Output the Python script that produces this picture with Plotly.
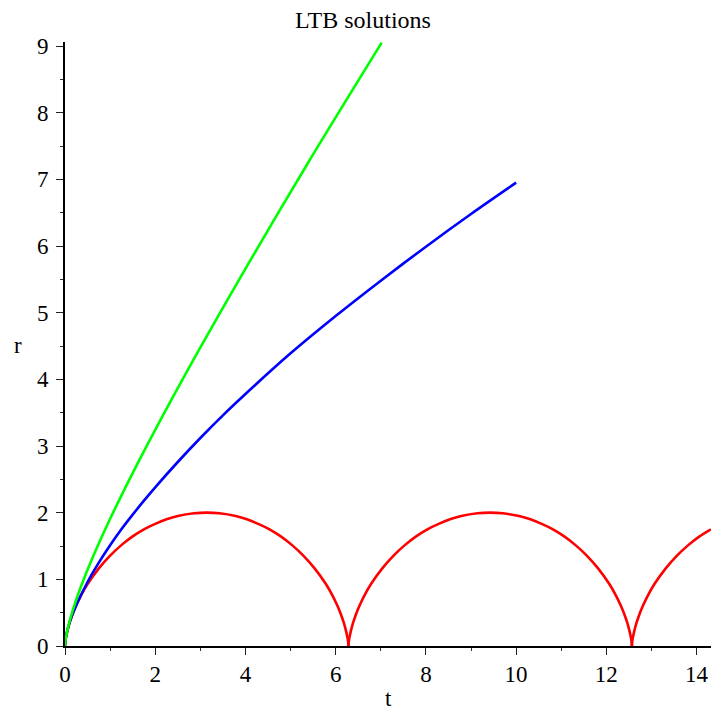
import plotly.graph_objects as go

# Red curve (three arches)
red_t = [0, 0.005, 0.01, 0.02, 0.05, 0.1, 0.15, 0.2, 0.27, 0.35, 0.5, 0.75, 1.0, 1.25, 1.5, 1.75,
         2.0, 2.25, 2.5, 2.86, 3.1416,
         3.4232, 3.7832, 4.0332, 4.2832, 4.5332, 4.7832, 5.0332, 5.2832, 5.5332, 5.7832, 5.9332,
         6.0132, 6.0832, 6.1332, 6.1832, 6.2332, 6.2632, 6.2732, 6.2782, 6.2832,
         None,
         6.2832, 6.2882, 6.2932, 6.3032, 6.3332, 6.3832, 6.4332, 6.4832, 6.5532, 6.6332, 6.7832,
         7.0332, 7.2832, 7.5332, 7.7832, 8.0332, 8.2832, 8.5332, 8.7832, 9.1432, 9.4248,
         9.7064, 10.0664, 10.3164, 10.5664, 10.8164, 11.0664, 11.3164, 11.5664, 11.8164, 12.0664,
         12.2164, 12.2964, 12.3664, 12.4164, 12.4664, 12.5164, 12.5464, 12.5564, 12.5614, 12.5664,
         None,
         12.5664, 12.5714, 12.5764, 12.5864, 12.6164, 12.6664, 12.7164, 12.7664, 12.8364, 12.9164,
         13.0664, 13.3164, 13.5664, 13.8164, 14.0664, 14.3164]
red_r = [0, 0.048, 0.076, 0.12, 0.216, 0.343, 0.443, 0.532, 0.64, 0.752, 0.929, 1.164, 1.356, 1.513,
         1.644, 1.75, 1.832, 1.90, 1.949, 1.99, 2.0,
         1.99, 1.949, 1.90, 1.832, 1.75, 1.644, 1.513, 1.356, 1.164, 0.929, 0.752,
         0.64, 0.532, 0.443, 0.343, 0.216, 0.12, 0.076, 0.048, 0,
         None,
         0, 0.048, 0.076, 0.12, 0.216, 0.343, 0.443, 0.532, 0.64, 0.752, 0.929,
         1.164, 1.356, 1.513, 1.644, 1.75, 1.832, 1.90, 1.949, 1.99, 2.0,
         1.99, 1.949, 1.90, 1.832, 1.75, 1.644, 1.513, 1.356, 1.164, 0.929,
         0.752, 0.64, 0.532, 0.443, 0.343, 0.216, 0.12, 0.076, 0.048, 0,
         None,
         0, 0.048, 0.076, 0.12, 0.216, 0.343, 0.443, 0.532, 0.64, 0.752,
         0.929, 1.164, 1.356, 1.513, 1.644, 1.75]

# Blue curve
blue_t = [0, 0.01, 0.03, 0.1, 0.25, 0.5, 0.75, 1, 1.25, 1.5, 1.75, 2, 2.5, 3, 3.5, 4, 5, 6, 7, 8,
          9, 10]
blue_r = [0, 0.09, 0.17, 0.35, 0.61, 0.96, 1.25, 1.51, 1.75, 1.97, 2.18, 2.38, 2.76, 3.12, 3.46,
          3.78, 4.39, 4.95, 5.48, 5.99, 6.48, 6.95]

# Green curve
green_t = [0, 0.005, 0.0211, 0.0723, 0.1752, 0.3519, 0.6293, 1.0404, 1.6269, 2.637,
           4.0947, 5.392, 7.02]
green_r = [0, 0.06, 0.1276, 0.2947, 0.5431, 0.8884, 1.3524, 1.9642, 2.7622, 4.0373,
           5.769, 7.2527, 9.05]

x_ticks = [0, 2, 4, 6, 8, 10, 12, 14]
y_ticks = [0, 1, 2, 3, 4, 5, 6, 7, 8, 9]

FONT = "Liberation Serif, Times New Roman, serif"
W, H = 712, 712
L, R, T, B = 65, 1, 42, 65.5
PW, PH = W - L - R, H - T - B

fig = go.Figure()
fig.add_trace(go.Scatter(x=red_t, y=red_r, mode="lines", connectgaps=False,
                         line=dict(color="#ff0000", width=2.6, shape="spline", smoothing=0.8)))
fig.add_trace(go.Scatter(x=blue_t, y=blue_r, mode="lines",
                         line=dict(color="#0000ff", width=2.6, shape="spline", smoothing=0.8)))
fig.add_trace(go.Scatter(x=green_t, y=green_r, mode="lines",
                         line=dict(color="#00ff00", width=2.6, shape="spline", smoothing=0.8)))

fig.update_layout(
    width=W, height=H,
    margin=dict(l=L, r=R, t=T, b=B, autoexpand=False),
    paper_bgcolor="white", plot_bgcolor="white",
    showlegend=False,
    font=dict(family=FONT, size=23, color="black"),
    title=dict(text="LTB solutions", x=363 / W, xanchor="center", xref="container",
               y=1 - 20 / H, yanchor="middle",
               font=dict(family=FONT, size=24, color="black")),
    annotations=[
        dict(text="t", xref="paper", yref="paper", x=(388 - L) / PW, y=-(699 - (H - B)) / PH,
             xanchor="center", yanchor="middle", showarrow=False, font=dict(family=FONT, size=23)),
        dict(text="r", xref="paper", x=(18 - L) / PW, xanchor="center", yref="paper",
             y=((H - B) - 346) / PH, yanchor="middle", showarrow=False,
             font=dict(family=FONT, size=23)),
    ],
)
fig.update_xaxes(range=[0, 14.32], tickvals=x_ticks, ticktext=[str(v) for v in x_ticks],
                 showgrid=False, zeroline=False, showline=True, linecolor="black", linewidth=1.6,
                 ticks="outside", ticklen=7, tickwidth=1.2, tickcolor="#222", automargin=False,
                 minor=dict(dtick=1, tick0=0, ticks="outside", ticklen=3, tickwidth=1.1,
                            tickcolor="#333", showgrid=False))
fig.update_yaxes(range=[0, 9.06], tickvals=y_ticks, ticktext=[str(v) for v in y_ticks],
                 showgrid=False, zeroline=False, showline=True, linecolor="black", linewidth=1.6,
                 ticks="outside", ticklen=7, tickwidth=1.2, tickcolor="#222", automargin=False,
                 ticklabelstandoff=3,
                 minor=dict(dtick=0.5, tick0=0, ticks="outside", ticklen=3, tickwidth=1.1,
                            tickcolor="#333", showgrid=False))

fig.write_html("out.html", config={"displayModeBar": False},
               post_script="document.body.style.margin='0px';")
